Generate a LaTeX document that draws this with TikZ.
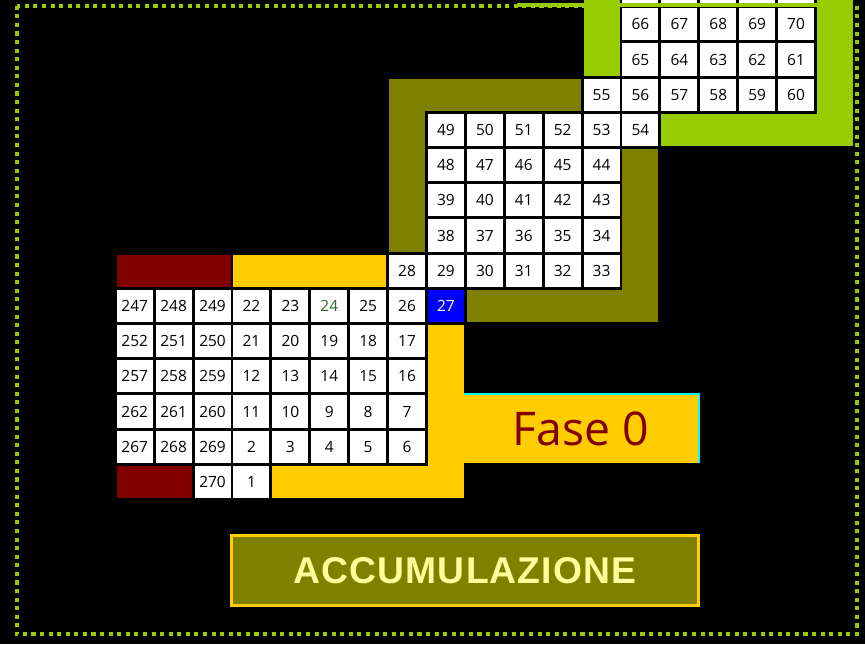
\documentclass[tikz,border=0pt]{standalone}
\usepackage{fontspec}
\setmainfont{Open Sans}
\newfontfamily\titlefont[LetterSpace=3]{Liberation Sans}
\definecolor{oliva}{HTML}{808000}
\definecolor{oro}{HTML}{FFCC00}
\definecolor{granata}{HTML}{800000}
\definecolor{lime}{HTML}{99CC00}
\definecolor{giallino}{HTML}{FFFF99}
\definecolor{verdescuro}{HTML}{2E6B2E}
\definecolor{ciano}{HTML}{00FFFF}

\begin{document}
\begin{tikzpicture}[x=0.025cm,y=-0.025cm,
    cell/.style={draw=black,line width=2.05pt,fill=white,minimum width=0.9725cm,minimum height=0.88cm,inner sep=0pt,font=\fontsize{11}{12}\selectfont},
    dotline/.style={draw=lime,line width=2.9pt,dash pattern=on 2.9pt off 3.2pt}]
            \useasboundingbox (0,0) rectangle (865,644);
            \clip (0,0) rectangle (865,644);
            \fill [black] (0,0) rectangle (865,644);
            \draw [dotline] (16.7,5.7) rectangle (856.7,634.3);
            % bands round the spiral
            \fill [oliva] (389,78.7) rectangle (582.1,112.3);
            \fill [oliva] (389,78.7) rectangle (426.5,253.1);
            \fill [oliva] (621,147.5) rectangle (658.4,321.9);
            \fill [oliva] (465.4,288.3) rectangle (658.4,321.9);
            \fill [oro] (233.45,254.75) rectangle (387.6,286.85);
            \fill [oro] (427.95,323.5) rectangle (463.95,498.05);
            \fill [oro] (272.45,466.45) rectangle (463.95,498.05);
            \fill [granata] (116.75,254.75) rectangle (230.55,286.85);
            \fill [granata] (116.75,466.45) rectangle (191.65,498.05);
            \fill [lime] (583.55,0) rectangle (621,77.1);
            \fill [lime] (815.5,0) rectangle (852.95,146.05);
            \fill [lime] (659.9,112.3) rectangle (852.95,146.05);
            % numbered cells, row/first column/numbers
            \foreach \r/\c/\lista in {-8/13/{66,67,68,69,70},-7/13/{65,64,63,62,61},-6/12/{55,56,57,58,59,60},
                -5/8/{49,50,51,52,53,54},-4/8/{48,47,46,45,44},-3/8/{39,40,41,42,43},-2/8/{38,37,36,35,34},
                -1/7/{28,29,30,31,32,33},0/0/{247,248,249,22,23},0/6/{25,26},1/0/{252,251,250,21,20,19,18,17},
                2/0/{257,258,259,12,13,14,15,16},3/0/{262,261,260,11,10,9,8,7},4/0/{267,268,269,2,3,4,5,6},5/2/{270,1}}
                \foreach \n [count=\i from 0] in \lista
                    \node [cell] (c\n) at ({115.3+38.9*(\c+\i+0.5)},{288.3+35.2*(\r+0.5)}) {\n};
            \foreach \k in {13,...,17}
                \node [cell] (cima\k) at ({115.3+38.9*(\k+0.5)},{288.3+35.2*(-8.5)}) {};
            \node [cell,text=verdescuro] (c24) at ({115.3+38.9*5.5},{288.3+35.2*0.5}) {24};
            \node [cell,fill=blue,text=white] (c27) at ({115.3+38.9*8.5},{288.3+35.2*0.5}) {27};
            \draw [lime,line width=3.26pt] (517,5) -- (853,5);
            % labels
            \node [fill=oro,minimum width=5.85cm,minimum height=1.705cm,inner sep=0pt,text=granata,font=\fontsize{33}{36}\selectfont] (fase) at (581,428.6) {Fase 0};
            \draw [ciano,line width=1.5pt] ([yshift=0.4pt]fase.north west) -- ([xshift=0.4pt,yshift=0.4pt]fase.north east) -- ([xshift=0.4pt]fase.south east);
            \node [draw=oro,line width=2.13pt,fill=oliva,minimum width=11.675cm,minimum height=1.74cm,inner sep=0pt,text=giallino,font=\titlefont\bfseries\fontsize{26.5}{30}\selectfont] (accum) at (465,570.35) {ACCUMULAZIONE};
        \end{tikzpicture}
\end{document}
